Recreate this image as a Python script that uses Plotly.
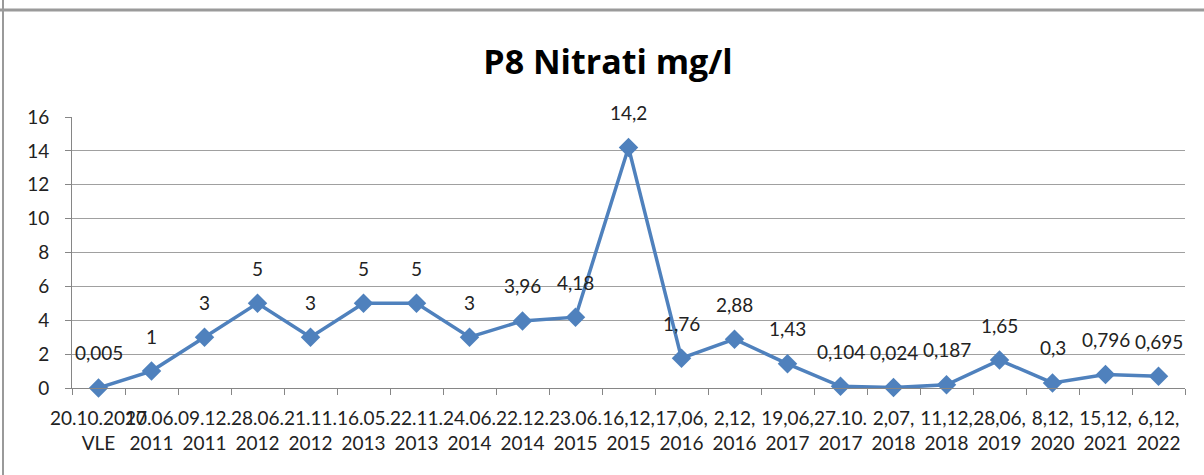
import plotly.graph_objects as go

# Sampling dates (two-line category labels) and nitrate concentrations
dates = [
    "20.10.2010<br>VLE", "27.06.<br>2011", "09.12.<br>2011", "28.06.<br>2012",
    "21.11.<br>2012", "16.05.<br>2013", "22.11.<br>2013", "24.06.<br>2014",
    "22.12.<br>2014", "23.06.<br>2015", "16,12,<br>2015", "17,06,<br>2016",
    "2,12,<br>2016", "19,06,<br>2017", "27.10.<br>2017", "2,07,<br>2018",
    "11,12,<br>2018", "28,06,<br>2019", "8,12,<br>2020", "15,12,<br>2021",
    "6,12,<br>2022",
]
nitrati = [0.005, 1, 3, 5, 3, 5, 5, 3, 3.96, 4.18, 14.2, 1.76, 2.88, 1.43,
           0.104, 0.024, 0.187, 1.65, 0.3, 0.796, 0.695]
y_ticks = [0, 2, 4, 6, 8, 10, 12, 14, 16]

W, H = 1204, 475
ML, MR, MT, MB = 72, 19, 117, 87
BLUE = "#4F81BD"
GRID = "#a0a0a0"
FONT = "Lato, 'Noto Sans', sans-serif"
TITLE_FONT = "'Open Sans', sans-serif"

fig = go.Figure()
fig.add_trace(go.Scatter(
    x=dates, y=nitrati, mode="lines+markers",
    line=dict(color=BLUE, width=3.5),
    marker=dict(symbol="diamond", size=15, color=BLUE),
    cliponaxis=False, hoverinfo="x+y",
))

# value labels above each point, decimal comma
for d, v in zip(dates, nitrati):
    fig.add_annotation(
        x=d, y=v, text=f"{v:g}".replace(".", ","), showarrow=False,
        yshift=35, font=dict(family=FONT, size=19, color="#222"),
    )

# chart frame lines (top and left edge)
pw, ph = W - ML - MR, H - MT - MB
def px(x):
    return (x - ML) / pw
def py(y):
    return 1 - (y - MT) / ph
fig.add_shape(type="line", xref="paper", yref="paper",
              x0=px(0), x1=px(W), y0=py(10), y1=py(10),
              line=dict(color="#9a9a9a", width=3))
fig.add_shape(type="line", xref="paper", yref="paper",
              x0=px(3), x1=px(3), y0=py(0), y1=py(H),
              line=dict(color="#9a9a9a", width=2))

fig.update_layout(
    width=W, height=H,
    margin=dict(l=ML, r=MR, t=MT, b=MB),
    paper_bgcolor="white", plot_bgcolor="white",
    showlegend=False,
    font=dict(family=FONT, size=19, color="#222"),
    title=dict(text="<b>P8 Nitrati mg/l</b>", x=608 / W, xanchor="center",
               y=1 - 62 / H, yanchor="middle", yref="container",
               font=dict(family=TITLE_FONT, size=34, color="black")),
)
fig.update_xaxes(
    type="category", tickmode="array", tickvals=dates, ticktext=dates,
    tickangle=0, tickson="boundaries", ticks="outside", ticklen=6,
    tickcolor="#868686", showline=True, linecolor="#868686", linewidth=1,
    showgrid=False, range=[-0.5, len(dates) - 0.5], ticklabelstandoff=13,
    tickfont=dict(family=FONT, size=19, color="#222"),
)
fig.update_yaxes(
    range=[0, 16], tickvals=y_ticks, ticks="outside", ticklen=6,
    tickcolor="#868686", showline=True, linecolor="#868686", linewidth=1,
    showgrid=True, gridcolor=GRID, gridwidth=1, zeroline=False,
    ticklabelstandoff=12,
    tickfont=dict(family=FONT, size=19, color="#222"),
)

fig.write_html("out.html")
